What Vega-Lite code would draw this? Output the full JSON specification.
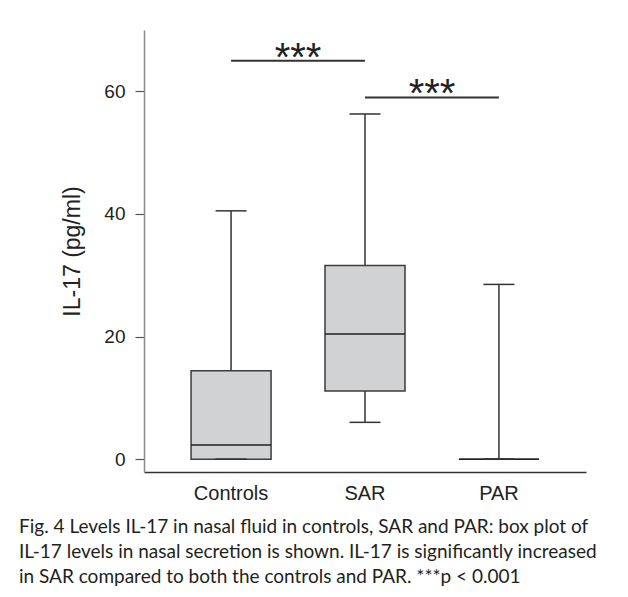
{
  "$schema": "https://vega.github.io/schema/vega-lite/v6.json",
  "autosize": "none",
  "width": 442,
  "height": 442,
  "padding": {"left": 144, "top": 30, "right": 42, "bottom": 125},
  "background": "white",
  "config": {"view": {"stroke": null}},
  "title": {
    "text": [
      "Fig. 4  Levels IL-17 in nasal fluid in controls, SAR and PAR: box plot of",
      "IL-17 levels in nasal secretion is shown. IL-17 is significantly increased",
      "in SAR compared to both the controls and PAR. ***p < 0.001"
    ],
    "orient": "bottom",
    "anchor": "start",
    "frame": "group",
    "dx": -125,
    "offset": 15,
    "font": "Lato",
    "fontSize": 19,
    "fontWeight": "normal",
    "lineHeight": 25,
    "color": "#231f20"
  },
  "datasets": {
    "boxes": [
      {"group": "Controls", "lower": 0, "q1": 0, "median": 2.3, "q3": 14.4, "upper": 40.5},
      {"group": "SAR", "lower": 6.0, "q1": 11.1, "median": 20.4, "q3": 31.6, "upper": 56.3},
      {"group": "PAR", "lower": 0, "q1": 0, "median": 0, "q3": 0, "upper": 28.5}
    ],
    "sig": [
      {"from": "Controls", "to": "SAR", "y": 65, "label": "***"},
      {"from": "SAR", "to": "PAR", "y": 59, "label": "***"}
    ]
  },
  "layer": [
    {
      "data": {"name": "boxes"},
      "mark": {"type": "rule", "color": "#333333", "strokeWidth": 1.5},
      "encoding": {
        "x": {
          "field": "group", "type": "nominal",
          "scale": {"domain": ["Controls", "SAR", "PAR"], "paddingInner": 0, "paddingOuter": 0.15},
          "axis": {
            "title": null, "labelAngle": 0, "ticks": false, "domainColor": "#333333", "domainWidth": 1.5,
            "labelFont": "Liberation Sans", "labelFontSize": 20, "labelColor": "#222222", "labelPadding": 11
          }
        },
        "y": {
          "field": "lower", "type": "quantitative",
          "scale": {"domain": [-2.1, 70], "nice": false, "zero": false},
          "axis": {
            "title": "IL-17 (pg/ml)", "values": [0, 20, 40, 60], "grid": false,
            "domainColor": "#8a8a8a", "domainWidth": 1.5, "tickColor": "#555555", "tickWidth": 1.2, "tickSize": 9,
            "labelFont": "Liberation Sans", "labelFontSize": 19, "labelColor": "#222222", "labelPadding": 10,
            "titleFont": "Liberation Sans", "titleFontSize": 23, "titleFontWeight": "normal", "titleColor": "#222222", "titlePadding": 19
          }
        },
        "y2": {"field": "q1"}
      }
    },
    {
      "data": {"name": "boxes"},
      "mark": {"type": "rule", "color": "#333333", "strokeWidth": 1.5},
      "encoding": {
        "x": {"field": "group", "type": "nominal"},
        "y": {"field": "q3", "type": "quantitative"},
        "y2": {"field": "upper"}
      }
    },
    {
      "data": {"name": "boxes"},
      "mark": {"type": "bar", "size": 80, "fill": "#d1d2d4", "stroke": "#3d3d3d", "strokeWidth": 1.5},
      "encoding": {
        "x": {"field": "group", "type": "nominal"},
        "y": {"field": "q1", "type": "quantitative"},
        "y2": {"field": "q3"}
      }
    },
    {
      "data": {"name": "boxes"},
      "mark": {"type": "tick", "size": 80, "thickness": 1.5, "color": "#222222", "opacity": 1},
      "encoding": {
        "x": {"field": "group", "type": "nominal"},
        "y": {"field": "median", "type": "quantitative"}
      }
    },
    {
      "data": {"name": "boxes"},
      "mark": {"type": "tick", "size": 31, "thickness": 1.5, "color": "#333333", "opacity": 1},
      "encoding": {
        "x": {"field": "group", "type": "nominal"},
        "y": {"field": "upper", "type": "quantitative"}
      }
    },
    {
      "data": {"name": "boxes"},
      "mark": {"type": "tick", "size": 31, "thickness": 1.5, "color": "#333333", "opacity": 1},
      "encoding": {
        "x": {"field": "group", "type": "nominal"},
        "y": {"field": "lower", "type": "quantitative"}
      }
    },
    {
      "data": {"name": "sig"},
      "mark": {"type": "rule", "color": "#333333", "strokeWidth": 2},
      "encoding": {
        "x": {"field": "from", "type": "nominal", "bandPosition": 0.5},
        "x2": {"field": "to"},
        "y": {"field": "y", "type": "quantitative"}
      }
    },
    {
      "data": {"name": "sig"},
      "mark": {"type": "text", "font": "Liberation Sans", "fontSize": 40, "color": "#222222", "baseline": "alphabetic", "dy": 10},
      "encoding": {
        "x": {"field": "from", "type": "nominal", "bandPosition": 1},
        "y": {"field": "y", "type": "quantitative"},
        "text": {"field": "label"}
      }
    }
  ]
}
